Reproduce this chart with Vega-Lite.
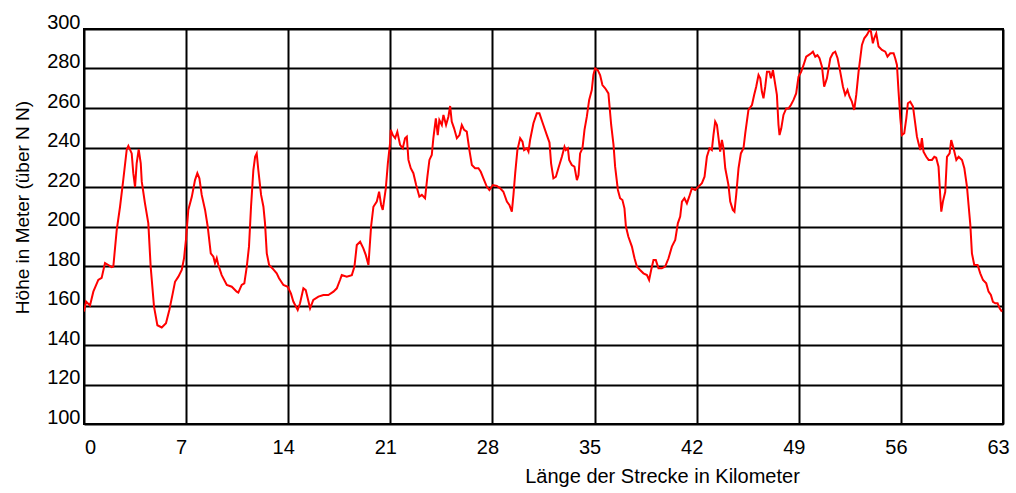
{
  "$schema": "https://vega.github.io/schema/vega-lite/v6.json",
  "width": 919,
  "height": 395,
  "autosize": {"type": "none"},
  "padding": {"left": 84, "top": 29, "right": 13, "bottom": 69},
  "background": "white",
  "config": {
    "view": {"stroke": "#000000", "strokeWidth": 2},
    "font": "Liberation Sans"
  },
  "data": {"values": [
    {"km":0.00,"m":157},{"km":0.14,"m":162},{"km":0.41,"m":160},{"km":0.64,"m":167},{"km":0.98,"m":173},{"km":1.21,"m":174},{"km":1.44,"m":181.5},{"km":1.67,"m":180.5},{"km":1.90,"m":179.4},{"km":2.01,"m":179.7},{"km":2.24,"m":198},{"km":2.47,"m":210},{"km":2.69,"m":223.5},{"km":2.93,"m":239},{"km":3.04,"m":240.8},{"km":3.27,"m":237},{"km":3.38,"m":227},{"km":3.50,"m":220},{"km":3.61,"m":232},{"km":3.75,"m":239},{"km":3.89,"m":232},{"km":3.96,"m":222.7},{"km":4.18,"m":211.7},{"km":4.41,"m":201.6},{"km":4.57,"m":179.7},{"km":4.80,"m":159.4},{"km":5.03,"m":150},{"km":5.33,"m":148.9},{"km":5.62,"m":151},{"km":5.85,"m":157.7},{"km":6.08,"m":166},{"km":6.24,"m":172},{"km":6.47,"m":174.6},{"km":6.70,"m":178},{"km":6.86,"m":184},{"km":6.99,"m":193.4},{"km":7.15,"m":208.4},{"km":7.39,"m":215},{"km":7.61,"m":223.5},{"km":7.77,"m":227},{"km":7.91,"m":224.4},{"km":8.07,"m":216},{"km":8.30,"m":208.4},{"km":8.48,"m":200},{"km":8.69,"m":186.4},{"km":8.87,"m":184.7},{"km":8.98,"m":181.4},{"km":9.10,"m":184},{"km":9.21,"m":180.5},{"km":9.44,"m":175.4},{"km":9.79,"m":170.4},{"km":10.13,"m":169.5},{"km":10.47,"m":167},
    {"km":10.58,"m":166.5},{"km":10.81,"m":170.4},{"km":10.99,"m":171.2},{"km":11.16,"m":179.7},{"km":11.31,"m":189.8},{"km":11.45,"m":210},{"km":11.61,"m":228.6},{"km":11.73,"m":235.3},{"km":11.84,"m":237},{"km":11.95,"m":228.6},{"km":12.14,"m":216},{"km":12.30,"m":210},{"km":12.41,"m":201.6},{"km":12.53,"m":186.4},{"km":12.69,"m":180.5},{"km":12.98,"m":178.3},{"km":13.21,"m":176.3},{"km":13.37,"m":173.8},{"km":13.67,"m":170.4},{"km":13.97,"m":169.5},{"km":14.19,"m":166},{"km":14.35,"m":162},{"km":14.65,"m":157.7},{"km":14.81,"m":161.1},{"km":15.04,"m":168.7},{"km":15.20,"m":167.8},{"km":15.34,"m":163.6},{"km":15.50,"m":158.6},{"km":15.72,"m":162.8},{"km":16.07,"m":164.5},{"km":16.41,"m":165.3},{"km":16.75,"m":165.3},{"km":17.10,"m":167},{"km":17.33,"m":168.7},{"km":17.55,"m":172.9},{"km":17.67,"m":175.4},{"km":18.01,"m":174.6},{"km":18.36,"m":175.4},{"km":18.54,"m":179.7},{"km":18.70,"m":190.6},{"km":18.93,"m":192.3},{"km":19.15,"m":188.9},{"km":19.32,"m":185.5},{"km":19.50,"m":180.5},{"km":19.68,"m":200},{"km":19.84,"m":210},{"km":20.07,"m":212.6},{"km":20.23,"m":217.6},{"km":20.37,"m":210.9},{"km":20.48,"m":208.4},{"km":20.69,"m":219.3},{"km":20.83,"m":232},{"km":20.98,"m":242.1},{"km":21.03,"m":248.9},
    {"km":21.17,"m":246.3},{"km":21.33,"m":244.7},{"km":21.48,"m":248},{"km":21.67,"m":241.3},{"km":21.85,"m":239.6},{"km":22.01,"m":244.7},{"km":22.13,"m":245.5},{"km":22.24,"m":233.7},{"km":22.40,"m":229.5},{"km":22.58,"m":227},{"km":22.77,"m":221},{"km":22.99,"m":215.1},{"km":23.16,"m":216},{"km":23.38,"m":214.3},{"km":23.54,"m":225.2},{"km":23.68,"m":233.7},{"km":23.84,"m":236.2},{"km":23.95,"m":244.7},{"km":24.12,"m":254.8},{"km":24.25,"m":246.3},{"km":24.36,"m":253.9},{"km":24.53,"m":251.4},{"km":24.64,"m":256.5},{"km":24.82,"m":251.4},{"km":24.98,"m":255.6},{"km":25.10,"m":261},{"km":25.21,"m":253.1},{"km":25.37,"m":249.7},{"km":25.56,"m":244.7},{"km":25.74,"m":246.3},{"km":25.90,"m":251.4},{"km":26.06,"m":248.9},{"km":26.24,"m":248},{"km":26.42,"m":238.7},{"km":26.59,"m":231.1},{"km":26.81,"m":229.5},{"km":27.04,"m":229.5},{"km":27.20,"m":227.7},{"km":27.38,"m":224.4},{"km":27.61,"m":220.2},{"km":27.79,"m":218.5},{"km":28.03,"m":221},{"km":28.30,"m":220.5},{"km":28.53,"m":219.3},{"km":28.75,"m":217.6},{"km":28.99,"m":212.6},{"km":29.16,"m":210.9},{"km":29.33,"m":207.5},{"km":29.44,"m":216},{"km":29.56,"m":227},{"km":29.71,"m":238.7},{"km":29.90,"m":244.7},{"km":30.06,"m":243},{"km":30.17,"m":238.7},{"km":30.36,"m":239.6},{"km":30.47,"m":237.9},{"km":30.58,"m":243.8},{"km":30.81,"m":252.3},{"km":31.04,"m":257.3},{"km":31.22,"m":257.3},{"km":31.45,"m":252.3},{"km":31.73,"m":246.3},{"km":31.91,"m":242.5},
    {"km":32.02,"m":232},{"km":32.18,"m":224.4},{"km":32.35,"m":225.2},{"km":32.52,"m":229.5},{"km":32.76,"m":235.3},{"km":32.94,"m":240.4},{"km":33.03,"m":238.7},{"km":33.17,"m":239.6},{"km":33.26,"m":233.7},{"km":33.44,"m":231.1},{"km":33.62,"m":230.3},{"km":33.79,"m":223.5},{"km":33.90,"m":226},{"km":34.01,"m":237},{"km":34.17,"m":239.6},{"km":34.31,"m":248.9},{"km":34.47,"m":255.6},{"km":34.63,"m":264.1},{"km":34.81,"m":269.1},{"km":34.92,"m":276.7},{"km":35.04,"m":280.1},{"km":35.22,"m":279.2},{"km":35.38,"m":276.7},{"km":35.54,"m":271.6},{"km":35.73,"m":270},{"km":35.95,"m":267.4},{"km":36.14,"m":251.4},{"km":36.30,"m":241.3},{"km":36.41,"m":230.3},{"km":36.60,"m":218.5},{"km":36.75,"m":214.3},{"km":36.91,"m":213.4},{"km":37.05,"m":209.2},{"km":37.15,"m":200},{"km":37.32,"m":194.8},{"km":37.56,"m":189.8},{"km":37.74,"m":183.9},{"km":37.90,"m":179.7},{"km":38.12,"m":178},{"km":38.35,"m":176.3},{"km":38.59,"m":175.4},{"km":38.74,"m":172.9},{"km":38.88,"m":178},{"km":39.04,"m":183},{"km":39.20,"m":183},{"km":39.38,"m":178.8},{"km":39.61,"m":178.8},{"km":39.84,"m":179.7},{"km":40.07,"m":183.9},{"km":40.30,"m":189.8},{"km":40.53,"m":193.2},{"km":40.71,"m":201.6},{"km":40.87,"m":205},{"km":40.99,"m":212.6},{"km":41.16,"m":214.3},{"km":41.33,"m":211.7},{"km":41.49,"m":215.1},{"km":41.67,"m":219.3},{"km":41.90,"m":218.5},{"km":42.13,"m":220.2},{"km":42.36,"m":221.9},{"km":42.54,"m":225.2},
    {"km":42.70,"m":235.3},{"km":42.88,"m":239.6},{"km":43.04,"m":238.7},{"km":43.15,"m":246.3},{"km":43.27,"m":253.1},{"km":43.39,"m":251.4},{"km":43.50,"m":244.7},{"km":43.61,"m":237.9},{"km":43.73,"m":243.8},{"km":43.84,"m":239.6},{"km":43.96,"m":229.5},{"km":44.18,"m":221},{"km":44.30,"m":212.6},{"km":44.48,"m":208.4},{"km":44.59,"m":207.5},{"km":44.71,"m":216},{"km":44.87,"m":229.5},{"km":45.03,"m":237},{"km":45.21,"m":239.6},{"km":45.33,"m":247.2},{"km":45.55,"m":259},{"km":45.79,"m":261.5},{"km":45.94,"m":266.6},{"km":46.08,"m":270.8},{"km":46.24,"m":276.7},{"km":46.36,"m":275},{"km":46.47,"m":268.3},{"km":46.58,"m":264.9},{"km":46.70,"m":270.8},{"km":46.82,"m":278.4},{"km":46.99,"m":278.4},{"km":47.09,"m":275},{"km":47.23,"m":279.2},{"km":47.32,"m":275},{"km":47.50,"m":266.6},{"km":47.61,"m":251.4},{"km":47.68,"m":246.3},{"km":47.80,"m":249.7},{"km":47.95,"m":256.5},{"km":48.14,"m":259.8},{"km":48.30,"m":259.8},{"km":48.46,"m":261.5},{"km":48.64,"m":264.1},{"km":48.82,"m":267.4},{"km":48.98,"m":275.8},{"km":49.17,"m":278.4},{"km":49.33,"m":281.8},{"km":49.51,"m":286},{"km":49.67,"m":286.8},{"km":49.85,"m":287.7},{"km":49.97,"m":288.5},{"km":50.13,"m":286},{"km":50.28,"m":286.8},{"km":50.42,"m":285.2},{"km":50.59,"m":280.9},{"km":50.74,"m":270.8},{"km":50.93,"m":275},{"km":51.16,"m":285.2},{"km":51.34,"m":287.7},{"km":51.50,"m":288.5},{"km":51.66,"m":285.2},{"km":51.84,"m":278.4},{"km":52.03,"m":270.8},{"km":52.18,"m":266.6},{"km":52.34,"m":269.1},{"km":52.48,"m":265.7},{"km":52.64,"m":263.2},{"km":52.80,"m":259},{"km":52.94,"m":266.6},{"km":53.10,"m":278.4},
    {"km":53.33,"m":291.9},{"km":53.49,"m":295.3},{"km":53.67,"m":297},{"km":53.85,"m":299.5},{"km":53.95,"m":298.6},{"km":54.08,"m":292.8},{"km":54.17,"m":295.3},{"km":54.31,"m":297.8},{"km":54.47,"m":291.1},{"km":54.70,"m":289.4},{"km":54.93,"m":288.5},{"km":55.08,"m":286},{"km":55.27,"m":287.7},{"km":55.50,"m":287.7},{"km":55.61,"m":285.2},{"km":55.73,"m":281.8},{"km":55.84,"m":268.3},{"km":55.96,"m":254.8},{"km":56.07,"m":246.3},{"km":56.23,"m":247.2},{"km":56.37,"m":254.8},{"km":56.48,"m":262.4},{"km":56.64,"m":263.2},{"km":56.83,"m":260.7},{"km":56.98,"m":252.3},{"km":57.10,"m":245.5},{"km":57.21,"m":242.1},{"km":57.33,"m":238.7},{"km":57.44,"m":244.7},{"km":57.55,"m":237.9},{"km":57.74,"m":235.3},{"km":57.90,"m":233.7},{"km":58.13,"m":233.7},{"km":58.29,"m":235.3},{"km":58.42,"m":234.8},{"km":58.58,"m":230.3},{"km":58.70,"m":215.1},{"km":58.77,"m":207.5},{"km":58.88,"m":212.6},{"km":59.04,"m":217.6},{"km":59.16,"m":235.3},{"km":59.34,"m":237},{"km":59.45,"m":243.8},{"km":59.61,"m":239.6},{"km":59.80,"m":233.7},{"km":59.96,"m":235.3},{"km":60.19,"m":233.7},{"km":60.35,"m":229.5},{"km":60.53,"m":220.2},{"km":60.64,"m":210.9},{"km":60.76,"m":200.8},{"km":60.87,"m":186.4},{"km":61.03,"m":180.5},{"km":61.26,"m":180.5},{"km":61.44,"m":176.3},{"km":61.63,"m":172.9},{"km":61.85,"m":171.2},{"km":62.01,"m":167},{"km":62.17,"m":165.3},{"km":62.31,"m":161.9},{"km":62.47,"m":161.1},{"km":62.63,"m":161.1},{"km":62.77,"m":158.6},{"km":62.93,"m":156.9}
  ]},
  "mark": {"type": "line", "color": "#ff0000", "strokeWidth": 2, "clip": true},
  "encoding": {
    "x": {
      "field": "km", "type": "quantitative",
      "scale": {"domain": [0, 63], "nice": false, "zero": false},
      "axis": {
        "values": [0, 7, 14, 21, 28, 35, 42, 49, 56, 63],
        "title": "Länge der Strecke in Kilometer",
        "titleFont": "Liberation Sans", "titleFontSize": 20, "titleFontWeight": "normal", "titleColor": "#000000",
        "titleX": 578, "titleY": 52, "titleBaseline": "middle", "titleAlign": "center", "titleAnchor": null,
        "labelFont": "Liberation Sans", "labelFontSize": 20, "labelColor": "#000000",
        "labelPadding": 13, "labelFlush": false, "labelOverlap": false,
        "labelOffset": {"condition": {"test": "datum.value == 0", "value": 6}, "value": -5},
        "ticks": false, "domain": false,
        "grid": true, "gridColor": "#000000", "gridWidth": 2, "gridOpacity": 1
      }
    },
    "y": {
      "field": "m", "type": "quantitative",
      "scale": {"domain": [100, 300], "nice": false, "zero": false},
      "axis": {
        "values": [100, 120, 140, 160, 180, 200, 220, 240, 260, 280, 300],
        "title": "Höhe in Meter (über N N)",
        "titleFont": "Liberation Sans", "titleFontSize": 19, "titleFontWeight": "normal", "titleColor": "#000000",
        "titleX": -62, "titleY": 178, "titleAngle": -90, "titleBaseline": "middle", "titleAlign": "center", "titleAnchor": null,
        "labelFont": "Liberation Sans", "labelFontSize": 20, "labelColor": "#000000",
        "labelPadding": 4, "labelFlush": false, "labelOverlap": false,
        "labelBaseline": "alphabetic", "labelOffset": -1,
        "ticks": false, "domain": false,
        "grid": true, "gridColor": "#000000", "gridWidth": 2, "gridOpacity": 1
      }
    }
  }
}
